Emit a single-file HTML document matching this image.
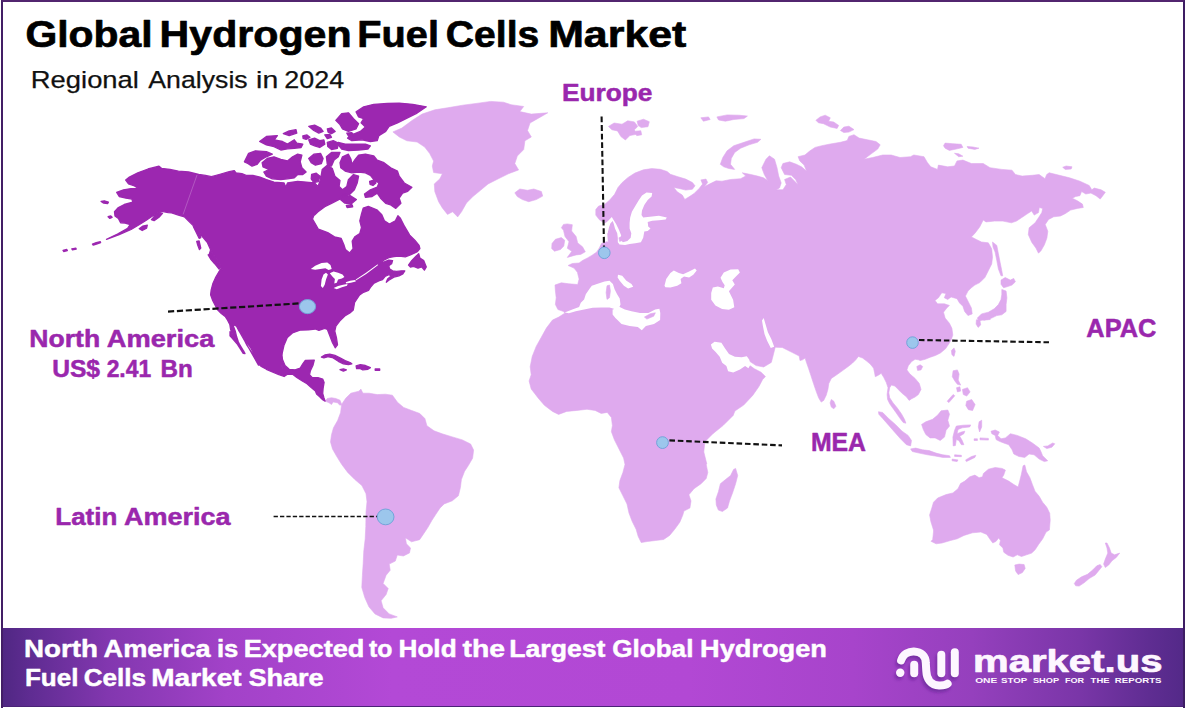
<!DOCTYPE html>
<html><head><meta charset="utf-8">
<style>
html,body{margin:0;padding:0;background:#fff;}
body{width:1186px;height:709px;position:relative;overflow:hidden;font-family:"Liberation Sans",sans-serif;}
#frame{position:absolute;left:1px;top:0;width:1184px;height:707.5px;box-sizing:border-box;border-left:2px solid #431e66;border-top:2px solid #52256f;border-right:2px solid #3d1d63;}
#banner{position:absolute;left:1px;top:628px;width:1184px;height:78px;background:linear-gradient(90deg,#4f2782 0%,#5f2c92 2.5%,#8237af 9%,#a242c8 19%,#b349d6 33%,#b248d4 58%,#a744cb 72%,#9540bd 82%,#7a36a8 91%,#5f2d92 97%,#532988 100%);border-bottom:1.5px solid #4a2377;}
svg{position:absolute;left:0;top:0;}
text{font-family:"Liberation Sans",sans-serif;}
</style></head><body>
<svg id="map" width="1186" height="709" viewBox="0 0 1186 709">
<path fill="#dfaaee" stroke="#dfaaee" stroke-width="0.6" stroke-linejoin="round" d="M325.1 401.1 L327.3 398.5 L331.5 397.7 L335.8 398.5 L340.0 400.2 L341.7 404.5 L340.0 405.3 L337.4 402.8 L333.2 401.9 L331.5 404.5 L329.0 402.8Z M392.9 131.9 L401.8 128.1 L412.0 120.5 L422.1 114.1 L434.8 109.8 L447.5 107.8 L462.7 105.2 L478.0 103.2 L490.7 101.4 L503.4 102.2 L511.0 104.7 L523.7 106.5 L519.8 111.6 L531.3 114.1 L547.8 112.8 L538.9 117.9 L530.0 123.0 L527.5 130.6 L531.3 137.0 L524.9 140.8 L523.7 149.6 L517.3 156.0 L514.8 163.6 L518.6 169.9 L508.4 173.8 L498.3 178.8 L488.1 183.9 L480.5 190.3 L472.9 196.6 L466.5 202.9 L461.5 211.8 L457.7 216.9 L452.6 211.8 L447.5 214.4 L442.4 208.0 L438.6 201.7 L434.8 191.5 L434.3 183.9 L439.9 178.8 L442.4 173.8 L433.6 172.5 L432.3 166.1 L433.6 161.1 L429.7 153.5 L424.7 147.1 L417.1 142.0 L406.9 140.8 L399.3 137.0Z M514.8 192.8 L519.8 189.0 L527.5 190.3 L533.8 189.0 L541.4 191.5 L542.7 196.1 L536.3 199.6 L528.7 201.7 L522.4 199.6 L517.3 196.6Z M564.7 313.2 L563.8 311.6 L557.9 309.5 L555.4 304.5 L556.2 297.7 L555.4 290.9 L555.0 285.0 L561.3 282.8 L568.9 283.8 L577.7 284.5 L579.1 279.1 L577.4 272.3 L574.0 268.1 L568.1 265.5 L572.3 263.5 L579.1 263.0 L582.5 260.5 L587.5 257.9 L591.8 255.4 L596.8 252.0 L599.4 247.8 L601.5 243.5 L606.6 241.7 L608.2 242.2 L607.6 233.2 L608.8 227.5 L610.4 223.0 L612.7 220.7 L604.2 223.0 L599.2 219.6 L595.8 215.1 L595.8 209.5 L598.6 206.1 L604.5 204.5 L609.5 200.2 L614.6 194.3 L618.0 187.5 L622.2 182.5 L628.1 177.4 L634.9 173.1 L643.4 169.8 L651.8 168.6 L660.3 169.3 L667.1 171.5 L670.4 174.3 L677.2 176.5 L685.7 179.1 L692.4 182.5 L695.0 185.8 L692.4 189.2 L685.7 190.1 L678.9 188.4 L673.8 187.5 L677.2 191.8 L682.3 195.1 L684.8 199.4 L689.1 196.8 L694.1 193.5 L699.2 188.4 L702.6 184.1 L700.9 179.9 L706.0 179.1 L707.7 182.5 L704.3 186.7 L709.4 184.1 L716.1 180.8 L722.0 181.2 L730.5 179.5 L740.6 178.7 L745.7 176.1 L742.3 172.8 L750.8 174.5 L757.5 176.1 L763.5 177.8 L767.7 180.4 L764.3 174.5 L761.8 167.7 L766.0 159.2 L769.4 155.8 L774.5 159.2 L777.0 167.7 L778.7 176.1 L781.2 182.9 L779.5 188.0 L776.1 189.7 L782.9 189.7 L786.3 184.6 L784.6 179.5 L790.5 177.0 L796.4 182.9 L798.1 184.6 L795.6 179.5 L791.4 175.3 L784.6 174.5 L781.2 167.7 L782.9 163.5 L789.7 161.8 L796.4 164.3 L801.5 166.8 L806.6 171.1 L804.1 165.1 L799.8 160.9 L798.1 156.7 L804.9 155.0 L810.0 150.8 L815.1 147.4 L821.8 145.7 L830.3 144.0 L840.4 142.3 L847.2 140.6 L848.9 136.4 L854.0 134.7 L859.1 138.1 L867.5 139.8 L876.0 141.5 L880.2 144.8 L877.7 149.1 L870.9 154.1 L864.1 159.2 L872.6 157.5 L882.7 155.0 L891.2 155.0 L900.0 157.5 L910.5 156.7 L913.8 155.0 L924.0 156.7 L927.4 162.6 L930.8 166.8 L937.5 169.4 L938.4 165.1 L947.7 166.8 L954.5 166.0 L957.0 160.9 L962.9 160.1 L971.4 163.5 L983.2 163.5 L990.0 167.7 L1001.8 169.4 L1012.0 170.2 L1015.4 174.5 L1022.1 176.1 L1032.3 175.3 L1039.1 174.5 L1045.0 178.7 L1046.7 174.5 L1049.2 172.8 L1059.4 175.3 L1069.5 177.8 L1080.0 181.2 L1089.2 185.5 L1091.8 189.8 L1094.3 188.1 L1101.1 189.8 L1105.3 192.3 L1102.8 195.7 L1100.2 199.1 L1096.0 195.7 L1090.9 193.1 L1085.8 194.0 L1081.6 191.5 L1079.9 195.7 L1075.7 196.5 L1072.3 198.2 L1077.4 200.8 L1082.4 204.1 L1083.3 207.5 L1077.4 208.4 L1070.6 210.1 L1065.5 213.5 L1060.5 216.0 L1053.7 216.8 L1048.6 219.4 L1045.2 224.5 L1047.8 231.2 L1046.9 238.0 L1044.4 244.8 L1041.0 250.7 L1038.5 253.2 L1035.9 248.1 L1031.7 242.2 L1028.3 234.6 L1029.1 227.8 L1035.1 222.8 L1038.5 217.7 L1041.8 212.6 L1042.7 208.4 L1039.3 207.5 L1038.5 212.6 L1034.2 215.1 L1031.7 210.9 L1026.6 214.3 L1021.5 217.7 L1016.5 221.1 L1011.4 222.8 L1002.9 221.1 L994.5 221.1 L986.0 221.9 L983.2 220.0 L979.8 226.8 L974.8 233.5 L971.4 236.9 L976.4 239.5 L981.5 242.0 L988.3 242.8 L991.7 248.8 L992.5 257.2 L991.7 264.0 L988.3 270.8 L984.9 277.5 L979.8 282.6 L974.8 285.1 L971.4 287.7 L968.0 291.1 L965.4 296.1 L968.0 301.2 L971.4 308.0 L972.2 313.9 L968.0 315.6 L964.6 311.4 L962.9 306.3 L959.5 302.9 L957.0 298.7 L951.1 297.0 L947.7 299.5 L944.3 297.8 L946.0 293.6 L941.8 292.8 L938.4 297.8 L935.0 300.4 L937.5 303.8 L944.3 303.8 L949.4 305.4 L946.8 308.0 L943.5 312.2 L945.1 318.1 L949.4 323.2 L951.9 328.3 L952.8 335.1 L951.1 340.0 L948.9 343.7 L945.5 348.8 L940.4 353.0 L935.4 355.5 L930.3 357.2 L925.2 359.3 L920.1 360.6 L918.4 359.8 L915.1 359.3 L911.7 361.5 L908.3 365.7 L906.9 369.9 L910.0 374.1 L915.1 378.4 L919.3 383.5 L921.0 389.4 L918.4 394.5 L915.1 397.0 L911.7 398.7 L909.1 400.4 L906.6 397.0 L901.5 392.8 L897.3 388.5 L894.8 386.0 L891.4 385.1 L889.7 387.7 L888.8 392.8 L889.7 397.8 L893.1 402.9 L897.3 408.0 L901.5 413.9 L904.6 419.5 L905.9 423.2 L903.2 422.5 L899.8 418.1 L896.1 412.7 L892.7 408.0 L889.7 403.8 L887.6 399.5 L887.1 394.5 L888.0 387.7 L886.3 382.6 L883.8 377.5 L881.2 373.3 L878.7 375.0 L875.3 376.7 L874.5 372.5 L873.6 368.2 L870.2 364.0 L866.0 360.6 L862.6 358.1 L858.4 356.4 L855.8 359.8 L852.5 363.1 L848.2 366.5 L842.3 370.8 L836.4 375.0 L831.3 378.4 L828.8 383.5 L827.9 389.4 L826.2 395.3 L823.7 400.4 L821.2 402.1 L818.6 397.8 L816.1 391.1 L813.5 383.5 L811.0 375.8 L808.5 368.2 L806.4 362.3 L805.1 358.1 L802.5 359.8 L800.0 360.6 L799.2 356.0 L792.4 352.6 L782.3 347.5 L775.2 347.2 L773.0 356.0 L771.3 362.4 L763.7 367.0 L756.1 365.6 L749.3 361.1 L748.4 364.5 L754.4 368.8 L761.1 372.2 L765.4 376.6 L762.5 379.7 L758.9 386.6 L752.7 395.4 L743.7 405.1 L734.9 411.0 L733.2 415.4 L723.0 425.6 L712.9 433.7 L704.8 441.8 L703.8 452.0 L706.8 464.0 L706.2 464.4 L707.8 472.5 L706.2 478.6 L701.1 483.7 L694.0 488.7 L688.9 494.8 L691.0 500.9 L689.9 508.0 L683.9 511.1 L682.8 515.1 L679.8 522.2 L674.7 529.3 L669.6 535.4 L663.6 539.5 L655.4 540.5 L647.3 541.5 L641.2 542.5 L638.2 536.4 L636.1 529.3 L632.1 521.2 L629.0 513.1 L627.0 504.0 L622.9 495.8 L618.9 487.7 L619.9 480.6 L622.9 472.5 L625.0 464.4 L623.6 458.1 L619.5 449.9 L614.4 439.8 L611.4 431.7 L612.4 425.6 L611.4 417.5 L607.3 412.4 L601.2 413.4 L595.1 410.4 L587.0 409.3 L576.9 410.4 L566.7 411.4 L558.6 414.4 L552.5 411.4 L544.4 405.3 L538.3 398.2 L531.2 389.0 L529.1 380.9 L531.2 374.8 L530.2 366.7 L532.2 356.5 L536.2 346.4 L541.3 337.3 L546.4 328.1 L552.5 320.0 L552.5 320.0 L558.8 317.1Z"/>
<path fill="#9c27b0" stroke="#9c27b0" stroke-width="1.3" stroke-linejoin="round" d="M139.2 228.8 L142.9 226.1 L147.3 225.1 L146.6 228.2 L142.2 230.5Z M151.4 219.7 L154.8 216.0 L159.8 212.9 L162.5 213.3 L159.0 217.3 L154.1 220.7Z M101.1 201.4 L104.3 200.8 L108.4 202.1 L107.7 203.5 L103.7 203.1Z M108.1 216.7 L110.8 216.0 L112.1 217.3 L109.7 218.4Z M63.0 250.5 L66.8 249.5 L67.4 250.5 L63.7 251.5Z M71.8 248.8 L75.9 248.1 L76.2 249.2 L72.5 249.8Z M92.5 244.1 L96.2 242.7 L100.3 241.7 L100.6 242.7 L96.5 244.1 L93.2 245.1Z M193.3 226.5 L195.4 226.1 L198.7 231.2 L200.8 237.6 L199.1 238.3 L196.4 232.6Z M196.7 241.4 L199.1 241.0 L200.8 248.1 L199.4 249.5 L197.7 245.1Z M208.2 254.9 L211.6 255.2 L216.3 260.0 L220.4 266.8 L219.1 269.1 L214.7 263.7 L210.6 259.0Z M244.4 161.8 L248.6 153.4 L255.4 150.8 L266.4 151.7 L272.3 154.2 L266.4 156.8 L260.5 160.1 L257.1 164.4 L252.0 166.1 L247.8 163.5Z M262.1 162.7 L267.2 158.5 L274.0 156.8 L280.8 159.3 L287.5 161.0 L292.6 156.8 L297.7 154.2 L301.9 155.1 L300.2 161.8 L301.9 167.8 L306.1 172.0 L302.8 174.5 L297.7 174.5 L294.3 177.9 L287.5 178.8 L280.8 179.6 L272.3 178.8 L266.4 176.2 L263.8 172.0 L268.9 169.5 L263.0 166.9Z M259.6 141.5 L266.4 136.5 L277.4 135.6 L274.3 139.8 L282.5 141.5 L287.5 144.1 L294.3 139.8 L296.8 143.2 L302.8 144.1 L301.1 147.5 L294.3 148.3 L287.5 148.8 L280.8 150.0 L274.0 146.6 L266.4 144.9Z M283.3 133.6 L289.2 130.9 L296.0 129.7 L296.8 133.1 L289.2 135.6Z M308.7 139.8 L314.6 138.1 L319.7 140.7 L323.9 139.8 L324.8 144.1 L319.7 147.5 L314.6 145.8 L310.4 144.1Z M308.7 126.3 L314.6 125.1 L320.5 128.0 L323.1 131.4 L318.8 133.1 L313.8 130.5Z M327.3 128.8 L331.5 128.0 L335.2 131.4 L331.5 133.6 L328.1 132.2Z M335.8 120.4 L341.7 113.6 L348.4 112.8 L353.5 118.7 L358.6 123.8 L356.1 128.8 L348.4 131.4 L342.5 128.8 L340.0 124.6Z M356.1 111.9 L363.7 106.8 L373.8 104.3 L387.4 103.5 L399.2 103.1 L412.7 104.3 L426.3 106.8 L416.1 113.6 L406.0 118.7 L397.5 122.9 L389.1 126.3 L385.7 131.4 L378.9 135.6 L377.2 140.7 L370.4 141.5 L362.0 139.8 L351.8 140.7 L347.6 138.1 L351.8 134.8 L360.3 131.4 L365.4 127.1 L361.1 122.9 L363.7 118.7 L358.6 117.0Z M338.3 142.4 L345.1 144.1 L355.2 144.1 L365.4 144.1 L370.4 145.8 L367.9 149.1 L358.6 150.0 L348.4 150.5 L341.7 149.1 L339.1 145.8Z M308.7 158.5 L313.8 154.2 L320.5 153.4 L323.1 158.5 L321.4 163.5 L315.4 165.2 L311.2 162.7Z M326.4 156.8 L331.5 152.5 L340.0 152.5 L338.3 156.8 L334.1 160.1 L331.5 166.1 L327.3 164.4Z M340.0 162.7 L342.5 156.8 L348.4 154.2 L351.0 159.3 L351.8 164.4 L355.2 159.3 L358.6 155.1 L365.4 154.2 L373.8 155.9 L377.2 160.1 L384.0 162.7 L390.7 167.8 L397.5 171.1 L399.2 176.2 L404.3 183.0 L411.9 187.2 L407.7 191.4 L402.6 193.1 L399.2 198.2 L400.9 203.3 L395.8 208.4 L390.7 205.0 L385.7 203.3 L380.6 198.2 L377.2 193.1 L372.1 196.5 L365.4 197.4 L364.5 194.0 L370.4 189.8 L377.2 187.2 L378.9 183.0 L373.8 179.6 L370.4 175.4 L365.4 172.8 L358.6 172.0 L351.8 172.8 L345.1 171.1 L340.8 167.8Z M369.6 181.3 L373.8 180.1 L375.9 183.0 L373.0 185.5 L370.1 184.3Z M106.5 239.3 L117.5 234.1 L127.7 228.2 L130.2 224.5 L125.1 223.1 L120.6 222.8 L118.4 218.5 L115.0 216.0 L114.5 211.8 L118.4 207.5 L124.3 204.5 L132.8 202.1 L131.9 199.1 L126.0 198.2 L119.2 196.5 L116.7 192.3 L123.5 189.8 L131.1 188.6 L138.7 188.6 L134.5 185.9 L128.5 183.8 L125.7 180.1 L129.4 177.1 L137.8 172.8 L148.0 169.0 L159.0 166.2 L161.5 168.3 L170.0 169.5 L178.4 171.2 L188.6 172.0 L198.7 174.5 L205.5 175.4 L211.4 176.7 L219.1 174.5 L229.2 171.7 L234.3 170.6 L236.0 172.8 L241.9 173.7 L246.1 175.4 L252.9 175.4 L260.0 177.1 L266.4 179.6 L274.0 182.1 L284.1 183.0 L285.8 187.2 L287.5 183.0 L297.7 181.3 L306.1 182.1 L314.6 183.0 L318.0 186.4 L320.5 179.6 L322.2 169.5 L327.3 165.2 L332.4 168.6 L334.9 176.2 L340.0 180.4 L339.1 186.4 L342.5 189.8 L346.8 186.4 L348.4 179.6 L353.5 174.5 L358.6 176.2 L357.2 183.0 L354.4 189.8 L349.3 194.8 L343.4 196.5 L338.3 199.9 L331.5 203.3 L324.8 206.7 L318.0 211.8 L314.6 215.0 L315.0 212.3 L312.5 219.1 L315.0 223.3 L318.4 229.2 L327.7 232.6 L334.5 236.8 L341.2 238.5 L343.8 244.5 L345.4 249.5 L349.7 252.9 L353.1 248.7 L352.2 241.1 L354.8 236.8 L359.8 233.5 L361.5 227.5 L359.8 220.8 L361.5 214.0 L363.2 208.1 L368.3 206.4 L376.8 209.8 L381.8 214.8 L384.4 220.8 L389.4 224.1 L395.4 220.8 L397.9 215.7 L400.4 218.2 L404.7 226.7 L409.7 235.1 L414.8 240.2 L419.1 245.3 L419.9 248.6 L417.4 251.7 L414.2 253.2 L410.4 255.0 L405.3 256.8 L399.0 256.0 L393.9 256.5 L388.8 257.6 L383.8 260.1 L377.4 264.7 L383.8 262.1 L388.8 260.1 L392.6 260.6 L391.6 263.8 L388.8 265.7 L389.5 268.9 L392.6 270.8 L396.4 271.4 L401.5 270.8 L404.8 270.8 L402.8 273.9 L399.0 275.8 L393.9 277.1 L388.8 280.3 L386.3 282.2 L387.6 279.0 L391.4 275.8 L388.8 274.6 L385.0 276.5 L382.5 279.6 L378.7 280.9 L373.6 283.5 L370.4 287.3 L368.5 290.4 L363.5 292.3 L359.6 294.9 L357.1 298.7 L354.6 302.5 L353.3 310.0 L349.9 312.9 L344.8 316.0 L339.7 321.1 L335.9 326.1 L334.8 331.2 L336.5 338.0 L337.5 344.8 L335.2 347.8 L332.5 342.7 L330.1 336.6 L327.4 329.5 L324.7 328.3 L318.9 330.4 L315.2 329.0 L308.4 329.9 L300.0 330.2 L292.4 332.9 L287.3 337.6 L283.9 345.6 L282.2 353.2 L281.4 361.7 L282.2 370.0 L281.6 352.0 L282.5 359.6 L285.0 365.5 L289.2 369.3 L295.1 369.8 L300.2 368.1 L302.8 363.8 L305.3 360.5 L314.3 360.1 L312.9 365.5 L310.4 370.6 L309.5 374.8 L312.1 377.4 L318.0 377.7 L322.7 379.1 L324.1 382.5 L323.1 388.4 L322.7 393.5 L323.9 397.7 L325.1 401.1 L322.7 399.7 L319.7 396.8 L316.6 394.0 L315.4 390.9 L311.2 387.5 L307.0 383.8 L301.9 380.8 L296.8 377.4 L292.6 374.3 L287.5 374.3 L284.1 376.5 L278.2 374.3 L272.3 372.0 L266.4 369.3 L261.3 366.4 L257.4 363.0 L256.7 359.6 L253.7 355.4 L250.3 350.3 L246.9 345.2 L243.9 339.3 L241.0 334.2 L238.5 330.0 L258.5 365.1 L256.8 360.0 L254.3 354.1 L250.9 348.1 L246.7 342.2 L242.5 336.3 L239.1 331.2 L236.5 326.1 L233.1 324.5 L233.7 327.0 L235.3 331.2 L236.5 336.3 L238.2 341.4 L240.4 346.4 L242.8 351.5 L245.0 353.6 L243.8 351.2 L240.8 347.3 L238.2 343.1 L235.7 338.0 L232.3 333.8 L230.6 329.5 L229.8 324.5 L227.6 320.2 L225.5 316.8 L221.3 313.5 L217.1 309.2 L215.4 305.8 L212.8 300.8 L210.6 294.8 L211.2 289.8 L212.8 283.8 L215.4 277.9 L218.8 272.0 L221.3 268.6 L217.9 266.1 L212.8 259.3 L209.0 255.1 L210.6 250.0 L222.4 270.0 L219.1 262.5 L214.8 256.6 L210.6 249.8 L207.2 242.2 L202.1 236.3 L197.1 229.5 L193.7 226.1 L188.6 221.1 L184.4 216.8 L178.4 215.1 L171.7 212.9 L168.3 212.6 L161.5 211.3 L158.1 212.6 L151.4 216.8 L146.3 220.2 L139.5 224.5 L131.1 229.5 L119.2 234.6Z M408.5 265.1 L411.7 260.6 L415.5 256.8 L418.7 253.6 L419.9 258.1 L423.7 260.6 L426.3 267.0 L424.4 270.1 L421.8 267.0 L418.0 268.2 L413.6 266.3 L410.4 267.0Z M339.5 198.8 L343.8 193.7 L349.7 195.4 L356.4 199.6 L351.4 203.8 L344.6 203.0Z M346.3 205.5 L352.2 204.9 L352.7 206.9 L347.1 207.6Z M230.0 331.7 L234.2 335.9 L238.5 342.7 L242.7 349.5 L244.9 353.7 L243.2 353.4 L240.2 348.6 L236.8 343.5 L232.5 338.5 L230.0 335.9Z M321.4 357.1 L324.8 355.0 L329.8 354.2 L334.9 355.4 L340.0 357.9 L345.1 360.5 L350.1 362.5 L351.8 363.8 L348.4 364.7 L343.4 363.8 L338.3 361.3 L333.2 357.9 L328.1 356.7 L323.9 357.9Z M356.1 365.9 L360.3 364.7 L365.4 365.5 L370.4 367.6 L367.9 369.3 L362.8 369.8 L360.3 368.6 L356.6 368.6Z M340.0 369.6 L343.4 368.9 L346.4 369.9 L343.4 371.1Z M375.2 368.9 L379.7 368.9 L379.7 370.3 L375.2 370.3Z M327.3 142.4 L333.2 140.7 L338.3 143.2 L337.4 148.3 L331.5 149.5 L327.8 146.6Z M302.8 135.9 L307.0 134.9 L309.9 137.3 L306.1 139.3 L303.1 138.3Z M311.6 174.5 L316.3 173.2 L320.0 176.2 L318.3 181.6 L313.8 182.6 L311.2 178.8Z M324.8 134.8 L329.8 134.3 L331.5 137.3 L327.3 138.7Z M346.8 133.1 L351.8 132.6 L354.4 135.6 L349.3 137.3Z"/>
<path fill="#fff" d="M564.7 312.6 L572.3 309.5 L579.1 307.0 L580.8 302.8 L584.1 299.4 L585.8 294.3 L589.2 289.2 L591.8 285.8 L597.7 283.8 L604.5 281.6 L609.5 280.8 L612.9 284.1 L614.6 289.2 L617.1 294.3 L619.7 298.5 L620.5 304.5 L618.8 308.2 L615.4 311.2 L613.8 308.7 L609.5 307.5 L601.1 307.5 L592.6 307.8 L584.1 309.5 L575.7 311.2 L568.9 313.2Z M612.6 309.5 L619.7 307.0 L624.8 309.5 L631.5 311.2 L640.0 312.9 L648.4 312.9 L655.2 309.5 L659.4 308.7 L660.3 312.9 L660.1 320.0 L654.0 324.1 L645.9 326.1 L641.8 330.2 L637.8 327.1 L629.7 326.1 L621.5 324.1 L617.5 320.0 L615.4 318.0 L612.6 314.6Z M618.0 274.8 L622.2 275.7 L626.4 280.8 L631.5 284.1 L633.2 286.7 L628.1 288.4 L623.9 285.8 L619.7 280.8 L617.6 277.4Z M664.5 285.8 L666.2 279.1 L670.4 273.1 L673.8 270.6 L678.9 273.1 L683.1 274.3 L689.1 271.5 L695.0 268.6 L696.7 270.6 L693.3 274.8 L689.1 277.4 L684.0 276.5 L680.6 279.1 L681.4 283.3 L677.2 285.8 L670.4 287.5 L665.4 287.2Z M602.6 233.2 L604.2 224.4 L608.2 220.7 L611.8 217.1 L613.3 219.6 L616.1 224.1 L618.9 229.8 L621.2 235.4 L619.7 238.8 L622.9 242.2 L627.4 241.0 L630.7 237.7 L631.3 233.2 L629.6 228.6 L629.6 223.0 L630.2 217.4 L631.9 211.7 L635.3 206.1 L638.6 200.4 L642.0 195.4 L646.5 192.6 L652.2 193.1 L651.6 196.5 L647.7 199.9 L644.3 205.0 L642.0 210.6 L641.5 215.1 L643.2 217.4 L649.9 216.8 L658.9 215.7 L666.8 217.4 L665.7 219.6 L658.9 220.2 L652.2 220.7 L647.7 221.9 L648.2 226.4 L650.5 228.6 L647.7 230.9 L644.3 231.5 L643.2 237.7 L640.9 242.2 L635.3 243.3 L629.6 243.9 L625.1 245.0 L619.5 244.4 L617.8 242.2 L617.8 237.7 L617.2 233.2 L615.0 228.6 L613.8 224.1 L612.7 221.0 L610.4 223.2 L608.8 227.7 L607.6 233.2Z M720.5 277.7 L723.8 272.6 L730.6 269.6 L738.2 269.2 L739.9 272.6 L735.7 276.8 L732.3 280.2 L734.8 284.5 L731.5 288.2 L728.9 291.2 L733.1 299.7 L734.3 307.3 L728.9 309.8 L722.1 309.0 L715.4 305.6 L711.2 299.7 L711.2 292.9 L712.8 287.5 L717.9 286.5 L723.8 288.2 L724.7 285.3 L722.5 281.9Z M710.9 344.5 L714.6 341.8 L721.4 342.8 L725.1 348.4 L729.0 354.0 L734.9 356.8 L741.7 357.3 L746.8 356.3 L749.3 359.7 L750.5 364.5 L748.4 368.2 L745.1 366.1 L740.0 369.5 L733.2 372.6 L728.1 371.2 L726.4 366.1 L722.2 362.8 L719.7 356.8 L715.4 351.8 L712.1 348.4Z M763.7 317.9 L765.4 323.8 L767.9 332.3 L771.3 339.1 L774.2 346.7 L770.8 347.9 L767.1 340.8 L764.5 334.0 L762.8 325.5 L762.0 320.5Z"/>
<path fill="#dfaaee" stroke="#dfaaee" stroke-width="0.6" stroke-linejoin="round" d="M607.0 285.8 L609.5 285.0 L610.4 290.9 L609.5 297.7 L607.0 299.4 L606.1 292.6Z M644.4 317.1 L650.3 313.7 L655.4 312.8 L653.7 316.2 L646.9 319.1Z M618.9 237.7 L621.2 237.1 L622.0 240.5 L619.7 241.5Z M567.3 223.9 L572.3 224.7 L571.6 231.0 L576.1 236.6 L577.7 242.9 L582.5 246.8 L585.3 251.8 L580.7 254.4 L576.1 254.9 L567.3 257.4 L571.8 251.3 L567.3 248.3 L569.0 241.7 L565.0 236.6 L563.5 230.3 L561.4 227.7 L563.5 224.4Z M552.0 243.5 L555.4 239.3 L561.3 237.6 L564.7 240.2 L563.8 246.1 L560.5 249.5 L554.5 251.2 L551.7 248.6Z M608.5 126.4 L614.1 123.0 L622.0 124.2 L627.7 120.8 L634.4 121.9 L637.8 126.4 L634.4 129.8 L636.7 134.3 L629.9 135.5 L625.4 140.0 L620.9 136.6 L617.5 130.9 L611.9 129.8Z M637.1 121.2 L643.5 119.2 L649.3 121.7 L648.0 126.7 L641.2 127.6 L638.1 125.3Z M635.6 131.2 L640.8 130.7 L641.7 134.8 L636.7 135.7Z M720.3 164.3 L722.8 157.5 L727.1 150.8 L733.8 145.7 L744.0 142.3 L754.1 138.9 L760.9 139.3 L757.5 142.3 L749.1 144.8 L740.6 148.2 L734.7 152.5 L731.3 158.4 L730.5 164.3 L734.7 169.4 L728.8 168.5 L723.7 166.8Z M815.9 120.3 L820.1 116.9 L825.2 115.2 L830.3 117.8 L828.6 121.2 L833.7 122.0 L838.7 125.4 L837.1 128.4 L830.3 127.1 L823.5 123.7 L818.4 122.8Z M840.4 130.5 L843.8 127.1 L848.9 126.2 L854.0 129.6 L848.9 132.1 L843.8 132.5Z M700.8 117.8 L708.5 116.9 L710.2 119.5 L703.4 121.2Z M716.9 116.9 L727.1 114.9 L738.9 115.2 L747.4 116.1 L744.0 118.6 L733.8 119.5 L725.4 121.2 L718.6 120.0Z M943.5 145.7 L945.1 143.1 L952.8 143.7 L961.2 144.3 L962.9 147.4 L956.1 149.1 L949.4 150.4 L945.1 148.2Z M967.1 146.5 L973.1 147.0 L979.0 148.2 L974.8 149.4 L968.0 148.2Z M954.5 153.3 L958.7 153.8 L962.9 156.2 L958.7 156.7Z M1062.7 167.3 L1066.1 166.0 L1072.0 166.8 L1071.2 169.0 L1065.3 169.4Z M992.5 242.0 L996.8 245.4 L998.4 253.8 L1000.1 262.3 L1001.8 270.8 L1002.7 275.8 L1001.0 275.8 L998.4 269.1 L996.8 260.6 L995.1 252.1 L993.0 247.1Z M1001.0 280.1 L1005.2 277.5 L1010.3 280.1 L1013.7 278.4 L1015.4 281.8 L1012.0 285.1 L1006.9 286.8 L1003.5 287.7 L1001.0 284.3Z M1001.8 289.4 L1006.1 291.1 L1006.9 297.8 L1006.1 304.6 L1006.1 311.4 L1001.8 314.8 L996.8 315.6 L991.7 318.1 L984.9 319.8 L979.0 320.7 L977.3 318.1 L981.5 313.9 L988.3 312.2 L994.2 308.8 L998.4 304.6 L1001.0 299.5 L1001.8 294.5Z M983.2 317.8 L990.0 317.1 L990.3 319.5 L983.6 320.2Z M976.4 319.8 L979.8 319.8 L980.7 324.9 L978.1 327.4 L976.1 324.1Z M831.3 399.5 L833.8 401.2 L835.9 406.3 L833.8 408.8 L831.3 407.1 L830.1 402.9Z M916.8 366.5 L920.1 364.8 L922.7 366.5 L921.0 369.9 L917.6 370.4Z M951.4 350.5 L954.0 347.9 L955.3 351.3 L954.0 356.4 L951.9 354.7Z M953.1 370.8 L957.4 369.9 L959.1 374.1 L958.2 380.1 L960.7 385.1 L957.4 384.3 L954.8 380.9 L952.3 376.7Z M956.5 387.7 L959.9 386.8 L960.7 391.1 L957.4 391.9Z M962.4 389.4 L967.5 387.7 L970.1 391.9 L966.7 396.1 L963.3 394.5Z M966.7 401.2 L971.7 399.5 L975.1 404.6 L972.6 410.5 L968.4 409.7 L965.8 405.4Z M947.2 401.2 L953.1 394.5 L954.8 395.8 L948.9 402.6Z M878.5 411.7 L882.7 412.5 L888.6 418.5 L895.4 424.4 L902.1 431.2 L908.1 435.4 L911.5 440.5 L910.6 445.9 L906.4 444.7 L900.5 438.8 L894.5 432.0 L888.6 425.2 L882.7 418.5 L878.8 414.2Z M921.6 424.4 L925.8 421.8 L932.6 419.3 L937.7 415.1 L941.1 410.8 L947.8 410.0 L949.5 414.2 L947.8 420.2 L949.5 426.1 L946.1 430.3 L944.5 437.1 L940.2 440.5 L935.1 437.9 L930.1 437.9 L925.8 434.5 L923.3 429.5Z M910.6 448.9 L915.7 448.1 L922.5 449.8 L929.2 450.6 L936.0 453.1 L942.8 454.8 L949.5 455.7 L950.4 457.4 L942.8 457.4 L935.1 456.0 L927.5 454.8 L919.1 453.1 L912.3 451.5Z M952.1 459.1 L958.0 459.9 L957.1 461.6 L952.1 460.8Z M954.6 454.8 L961.4 455.3 L961.4 456.7 L954.6 456.4Z M965.6 459.9 L971.5 456.5 L975.8 455.3 L974.9 457.4 L969.8 459.9 L966.4 461.6Z M952.9 437.1 L954.6 430.3 L956.3 426.1 L963.1 425.2 L970.7 424.9 L969.8 426.9 L962.2 427.8 L958.0 429.5 L957.1 433.7 L961.4 432.0 L964.8 431.2 L963.9 433.7 L959.7 436.2 L962.2 440.5 L963.9 444.7 L961.4 444.7 L958.8 440.5 L956.3 439.6 L955.4 445.5 L953.2 445.9Z M979.1 421.8 L981.7 420.2 L981.7 426.9 L979.6 432.0 L978.3 426.9Z M974.1 438.8 L977.4 438.8 L977.4 440.5 L974.1 440.5Z M980.0 437.9 L988.4 438.4 L988.4 440.1 L980.0 439.8Z M991.0 431.2 L995.2 430.0 L999.4 432.0 L997.7 435.4 L1001.1 438.8 L1005.4 437.9 L1010.4 433.7 L1017.2 435.4 L1025.7 438.8 L1032.4 443.0 L1039.2 448.1 L1040.9 451.5 L1042.6 455.7 L1047.7 460.8 L1044.3 461.6 L1039.2 459.1 L1034.1 454.8 L1029.1 454.0 L1024.8 457.4 L1018.9 456.5 L1013.8 454.0 L1012.1 449.8 L1008.7 444.7 L1003.7 443.0 L999.4 441.3 L996.1 439.6 L995.2 435.4 L991.8 433.7Z M1043.4 446.4 L1047.7 445.9 L1052.7 443.0 L1054.8 443.8 L1051.9 447.2 L1046.8 448.6Z M933.5 530.0 L930.9 521.7 L929.6 514.9 L931.8 508.1 L933.5 502.2 L937.7 498.0 L946.1 494.6 L952.9 492.9 L958.0 488.7 L960.5 483.6 L964.8 481.1 L969.8 476.8 L974.9 475.1 L979.1 477.7 L982.5 476.8 L983.4 473.5 L988.4 469.2 L995.2 467.5 L1002.0 468.4 L1005.4 470.1 L1003.7 475.1 L1002.0 477.7 L1008.7 481.1 L1013.8 484.5 L1018.1 487.0 L1019.7 481.1 L1021.4 474.3 L1023.1 465.8 L1024.8 465.0 L1026.5 471.8 L1029.9 477.7 L1032.4 484.5 L1035.0 491.2 L1039.2 496.3 L1042.6 502.2 L1046.8 507.3 L1049.7 513.2 L1050.2 520.0 L1049.4 530.0 L1046.1 532.0 L1042.7 538.8 L1038.4 544.7 L1035.1 549.8 L1031.7 553.1 L1026.6 554.8 L1021.5 556.5 L1017.3 554.8 L1013.1 557.0 L1008.0 555.3 L1003.8 552.3 L1002.9 548.1 L999.5 544.7 L1000.4 540.5 L998.7 537.9 L996.1 541.3 L992.8 543.0 L990.2 539.6 L986.8 534.5 L980.9 532.0 L972.5 532.8 L964.0 535.4 L957.2 538.8 L950.5 540.5 L942.0 543.0 L936.1 543.8 L931.0 541.3 L932.7 539.6 L933.5 532.0Z M1014.8 565.0 L1019.0 564.1 L1024.1 564.5 L1025.2 568.4 L1022.4 572.6 L1018.1 574.6 L1015.6 570.9Z M1074.3 583.6 L1076.5 580.2 L1081.6 576.8 L1087.5 574.3 L1092.6 570.1 L1096.8 565.8 L1100.2 564.5 L1101.9 566.7 L1098.5 570.9 L1095.1 575.1 L1089.2 578.5 L1084.1 582.8 L1079.1 586.1 L1075.7 585.8Z M1103.6 564.1 L1105.3 559.1 L1107.8 553.1 L1107.0 548.1 L1105.3 543.0 L1107.0 543.0 L1109.5 548.1 L1111.2 553.1 L1114.6 554.8 L1119.7 553.1 L1116.3 557.4 L1112.0 560.8 L1108.7 565.0 L1105.3 567.5Z M716.3 505.0 L715.9 498.9 L718.4 491.8 L720.4 483.7 L725.5 479.6 L730.6 475.5 L733.6 469.4 L735.6 468.4 L737.7 475.5 L735.6 483.7 L732.6 492.8 L729.5 500.9 L727.5 508.0 L722.4 511.5 L718.4 510.1Z M341.6 404.4 L345.7 398.3 L350.8 393.2 L358.9 391.2 L360.9 389.1 L362.9 393.2 L369.0 393.2 L377.2 394.6 L385.3 394.2 L392.4 395.2 L397.5 402.3 L403.6 407.4 L411.7 410.5 L419.8 413.5 L424.9 418.6 L426.9 425.7 L434.0 430.8 L442.1 433.8 L452.3 436.9 L462.4 439.9 L470.6 444.0 L473.6 450.1 L472.6 458.2 L468.5 465.3 L464.5 471.4 L461.4 479.5 L460.4 487.6 L458.4 495.7 L452.3 500.8 L444.2 503.9 L440.1 507.9 L436.0 514.0 L431.8 520.5 L427.8 527.6 L423.7 533.7 L419.6 539.7 L411.5 541.8 L405.4 537.7 L406.4 543.8 L410.5 547.9 L409.5 552.9 L403.4 556.0 L397.3 555.0 L395.3 561.1 L389.2 564.1 L390.2 570.2 L386.1 575.3 L383.1 583.4 L388.2 588.5 L386.1 594.6 L381.1 600.7 L383.1 607.8 L389.2 613.9 L397.3 616.9 L391.2 618.3 L383.1 617.9 L375.0 613.9 L368.9 606.8 L364.8 597.6 L361.8 587.5 L362.4 575.3 L363.2 563.1 L363.8 550.9 L365.2 538.7 L365.8 526.5 L366.0 512.0 L367.0 501.8 L366.0 493.7 L361.9 485.6 L354.8 479.5 L347.7 472.4 L341.6 464.3 L336.5 456.1 L332.5 449.0 L330.5 441.9 L331.5 434.8 L333.5 427.7 L337.6 420.6 L340.6 412.5Z"/>
<path fill="#fff" d="M310.8 268.9 L315.2 265.7 L321.6 263.1 L327.3 262.5 L330.5 265.1 L331.7 268.9 L328.6 270.1 L325.4 268.2 L320.3 268.9 L315.2 269.7Z M320.9 286.0 L321.6 279.6 L323.5 274.6 L326.0 272.7 L327.9 274.6 L326.0 279.6 L324.7 284.7 L322.8 287.9Z M329.8 273.3 L333.6 271.4 L338.1 272.7 L342.5 274.6 L344.4 277.1 L341.9 278.6 L338.1 279.6 L336.8 282.8 L334.3 283.5 L334.9 279.0 L332.4 276.5Z M333.6 287.9 L338.1 286.0 L343.1 284.7 L347.6 284.1 L347.0 285.7 L341.9 287.3 L336.8 289.2Z M345.7 282.2 L350.1 280.7 L355.2 279.9 L355.8 281.5 L350.8 282.8 L346.3 283.5Z M377.7 264.2 L366.0 272.8 L355.8 279.6 L355.8 280.5 L366.2 273.9 L377.9 265.3Z"/>
<path d="M197 175 L183.1 214.4" stroke="#fff" stroke-opacity="0.28" stroke-width="0.8" fill="none"/>
<g stroke="#111" fill="none">
<path d="M168 311.6 L299.5 303.4" stroke-width="2.2" stroke-dasharray="6.2 2.7"/>
<path d="M601.6 116.5 L604 247" stroke-width="2.1" stroke-dasharray="5.8 2.8"/>
<path d="M919 340 L1050.2 342.3" stroke-width="2.1" stroke-dasharray="5.5 2.8"/>
<path d="M669.4 440.4 L782 445.4" stroke-width="2.1" stroke-dasharray="5.6 2.8"/>
<path d="M273.6 516.5 L377.5 516.5" stroke-width="1.7" stroke-dasharray="4.3 2.1"/>
</g>
<g fill="#9cc6ec" stroke="#74a3da" stroke-width="1">
<ellipse cx="307.5" cy="306.6" rx="8.1" ry="7.1"/>
<circle cx="604.3" cy="252.8" r="5.8"/>
<circle cx="912.5" cy="342.6" r="5.8"/>
<circle cx="662.5" cy="442.6" r="5.9"/>
<ellipse cx="385.6" cy="516.9" rx="8.4" ry="7.9"/>
</g>
<text x="25.52" y="47.10" font-size="37.50" font-weight="bold" fill="#000" stroke="#000" stroke-width="0.7" stroke-linejoin="round" textLength="127.04" lengthAdjust="spacingAndGlyphs">Global</text>
<text x="159.58" y="47.10" font-size="37.50" font-weight="bold" fill="#000" stroke="#000" stroke-width="0.7" stroke-linejoin="round" textLength="191.93" lengthAdjust="spacingAndGlyphs">Hydrogen</text>
<text x="357.37" y="47.10" font-size="37.50" font-weight="bold" fill="#000" stroke="#000" stroke-width="0.7" stroke-linejoin="round" textLength="81.59" lengthAdjust="spacingAndGlyphs">Fuel</text>
<text x="445.89" y="47.10" font-size="37.50" font-weight="bold" fill="#000" stroke="#000" stroke-width="0.7" stroke-linejoin="round" textLength="93.43" lengthAdjust="spacingAndGlyphs">Cells</text>
<text x="548.16" y="47.10" font-size="37.50" font-weight="bold" fill="#000" stroke="#000" stroke-width="0.7" stroke-linejoin="round" textLength="138.18" lengthAdjust="spacingAndGlyphs">Market</text>
<text x="30.83" y="87.50" font-size="24.71" font-weight="normal" fill="#111" stroke="#111" stroke-width="0.25" stroke-linejoin="round" textLength="108.09" lengthAdjust="spacingAndGlyphs">Regional</text>
<text x="148.32" y="87.50" font-size="24.71" font-weight="normal" fill="#111" stroke="#111" stroke-width="0.25" stroke-linejoin="round" textLength="99.35" lengthAdjust="spacingAndGlyphs">Analysis</text>
<text x="256.08" y="87.50" font-size="24.71" font-weight="normal" fill="#111" stroke="#111" stroke-width="0.25" stroke-linejoin="round" textLength="22.09" lengthAdjust="spacingAndGlyphs">in</text>
<text x="284.38" y="87.50" font-size="24.71" font-weight="normal" fill="#111" stroke="#111" stroke-width="0.25" stroke-linejoin="round" textLength="59.86" lengthAdjust="spacingAndGlyphs">2024</text>
<text x="561.94" y="101.40" font-size="24.42" font-weight="bold" fill="#9a27ad" stroke="#9a27ad" stroke-width="0.5" stroke-linejoin="round" textLength="90.49" lengthAdjust="spacingAndGlyphs">Europe</text>
<text x="29.32" y="346.50" font-size="24.27" font-weight="bold" fill="#9a27ad" stroke="#9a27ad" stroke-width="0.5" stroke-linejoin="round" textLength="70.85" lengthAdjust="spacingAndGlyphs">North</text>
<text x="106.77" y="346.50" font-size="24.27" font-weight="bold" fill="#9a27ad" stroke="#9a27ad" stroke-width="0.5" stroke-linejoin="round" textLength="107.56" lengthAdjust="spacingAndGlyphs">America</text>
<text x="52.17" y="376.60" font-size="24.27" font-weight="bold" fill="#9a27ad" stroke="#9a27ad" stroke-width="0.5" stroke-linejoin="round" textLength="47.93" lengthAdjust="spacingAndGlyphs">US$</text>
<text x="106.65" y="376.60" font-size="24.27" font-weight="bold" fill="#9a27ad" stroke="#9a27ad" stroke-width="0.5" stroke-linejoin="round" textLength="44.50" lengthAdjust="spacingAndGlyphs">2.41</text>
<text x="160.57" y="376.60" font-size="24.27" font-weight="bold" fill="#9a27ad" stroke="#9a27ad" stroke-width="0.5" stroke-linejoin="round" textLength="32.30" lengthAdjust="spacingAndGlyphs">Bn</text>
<text x="55.26" y="525.20" font-size="24.27" font-weight="bold" fill="#9a27ad" stroke="#9a27ad" stroke-width="0.5" stroke-linejoin="round" textLength="62.12" lengthAdjust="spacingAndGlyphs">Latin</text>
<text x="123.97" y="525.20" font-size="24.27" font-weight="bold" fill="#9a27ad" stroke="#9a27ad" stroke-width="0.5" stroke-linejoin="round" textLength="106.65" lengthAdjust="spacingAndGlyphs">America</text>
<text x="1086.32" y="336.70" font-size="25.15" font-weight="bold" fill="#9a27ad" stroke="#9a27ad" stroke-width="0.5" stroke-linejoin="round" textLength="69.98" lengthAdjust="spacingAndGlyphs">APAC</text>
<text x="810.94" y="450.70" font-size="25.15" font-weight="bold" fill="#9a27ad" stroke="#9a27ad" stroke-width="0.5" stroke-linejoin="round" textLength="55.09" lengthAdjust="spacingAndGlyphs">MEA</text>
</svg>
<div id="banner"></div>
<div id="frame"></div>
<svg width="1186" height="709" viewBox="0 0 1186 709">
<text x="24.02" y="656.60" font-size="23.26" font-weight="bold" fill="#fff" stroke="#fff" stroke-width="0.45" stroke-linejoin="round" textLength="73.95" lengthAdjust="spacingAndGlyphs">North</text>
<text x="103.55" y="656.60" font-size="23.26" font-weight="bold" fill="#fff" stroke="#fff" stroke-width="0.45" stroke-linejoin="round" textLength="107.01" lengthAdjust="spacingAndGlyphs">America</text>
<text x="217.03" y="656.60" font-size="23.26" font-weight="bold" fill="#fff" stroke="#fff" stroke-width="0.45" stroke-linejoin="round" textLength="21.34" lengthAdjust="spacingAndGlyphs">is</text>
<text x="243.66" y="656.60" font-size="23.26" font-weight="bold" fill="#fff" stroke="#fff" stroke-width="0.45" stroke-linejoin="round" textLength="120.72" lengthAdjust="spacingAndGlyphs">Expected</text>
<text x="369.08" y="656.60" font-size="23.26" font-weight="bold" fill="#fff" stroke="#fff" stroke-width="0.45" stroke-linejoin="round" textLength="23.44" lengthAdjust="spacingAndGlyphs">to</text>
<text x="398.53" y="656.60" font-size="23.26" font-weight="bold" fill="#fff" stroke="#fff" stroke-width="0.45" stroke-linejoin="round" textLength="58.09" lengthAdjust="spacingAndGlyphs">Hold</text>
<text x="462.64" y="656.60" font-size="23.26" font-weight="bold" fill="#fff" stroke="#fff" stroke-width="0.45" stroke-linejoin="round" textLength="42.49" lengthAdjust="spacingAndGlyphs">the</text>
<text x="509.29" y="656.60" font-size="23.26" font-weight="bold" fill="#fff" stroke="#fff" stroke-width="0.45" stroke-linejoin="round" textLength="96.21" lengthAdjust="spacingAndGlyphs">Largest</text>
<text x="612.18" y="656.60" font-size="23.26" font-weight="bold" fill="#fff" stroke="#fff" stroke-width="0.45" stroke-linejoin="round" textLength="81.23" lengthAdjust="spacingAndGlyphs">Global</text>
<text x="700.06" y="656.60" font-size="23.26" font-weight="bold" fill="#fff" stroke="#fff" stroke-width="0.45" stroke-linejoin="round" textLength="126.91" lengthAdjust="spacingAndGlyphs">Hydrogen</text>
<text x="24.93" y="685.80" font-size="23.26" font-weight="bold" fill="#fff" stroke="#fff" stroke-width="0.45" stroke-linejoin="round" textLength="53.56" lengthAdjust="spacingAndGlyphs">Fuel</text>
<text x="83.78" y="685.80" font-size="23.26" font-weight="bold" fill="#fff" stroke="#fff" stroke-width="0.45" stroke-linejoin="round" textLength="62.34" lengthAdjust="spacingAndGlyphs">Cells</text>
<text x="151.31" y="685.80" font-size="23.26" font-weight="bold" fill="#fff" stroke="#fff" stroke-width="0.45" stroke-linejoin="round" textLength="90.25" lengthAdjust="spacingAndGlyphs">Market</text>
<text x="248.41" y="685.80" font-size="23.26" font-weight="bold" fill="#fff" stroke="#fff" stroke-width="0.45" stroke-linejoin="round" textLength="75.26" lengthAdjust="spacingAndGlyphs">Share</text>
<defs><filter id="sh" x="-20%" y="-20%" width="140%" height="150%"><feGaussianBlur stdDeviation="1.6"/></filter></defs>
<g fill="none" stroke="#4b1d80" stroke-opacity="0.45" stroke-linecap="round" stroke-width="8" filter="url(#sh)" transform="translate(-1.5,3)">
<path d="M901.1 660.4 C903 654 909 651.3 914 651.5 C921 651.8 925.8 656 925.8 663 L926.3 671 C926.6 679 931 685.3 939 685.5 C943 685.6 946 685 947.6 683.7"/>
<path d="M914.2 664.8 L914.2 673.3"/><path d="M941.3 654.7 L941.3 673.3"/><path d="M954.8 652.2 L954.8 673.3"/>
<path d="M900.2 672.7 L900.25 672.7"/>
</g>
<g id="logo" fill="none" stroke="#fdf6ff" stroke-linecap="round" stroke-width="8">
<path d="M901.1 660.4 C903 654 909 651.3 914 651.5 C921 651.8 925.8 656 925.8 663 L926.3 671 C926.6 679 931 685.3 939 685.5 C943 685.6 946 685 947.6 683.7"/>
<path d="M914.2 664.8 L914.2 673.3"/><path d="M941.3 654.7 L941.3 673.3"/><path d="M954.8 652.2 L954.8 673.3"/>
<path d="M900.2 672.7 L900.25 672.7" stroke-width="8.4"/>
</g>
<text x="973.04" y="671.70" font-size="31.40" font-weight="bold" fill="#fdf6ff" stroke="#fdf6ff" stroke-width="0.7" stroke-linejoin="round" textLength="189.40" lengthAdjust="spacingAndGlyphs">market.us</text>
<text x="975.19" y="682.60" font-size="7.12" font-weight="bold" fill="#fdf6ff" textLength="22.09" lengthAdjust="spacingAndGlyphs">ONE</text>
<text x="1001.01" y="682.60" font-size="7.12" font-weight="bold" fill="#fdf6ff" textLength="26.28" lengthAdjust="spacingAndGlyphs">STOP</text>
<text x="1032.92" y="682.60" font-size="7.12" font-weight="bold" fill="#fdf6ff" textLength="26.19" lengthAdjust="spacingAndGlyphs">SHOP</text>
<text x="1065.01" y="682.60" font-size="7.12" font-weight="bold" fill="#fdf6ff" textLength="19.18" lengthAdjust="spacingAndGlyphs">FOR</text>
<text x="1090.60" y="682.60" font-size="7.12" font-weight="bold" fill="#fdf6ff" textLength="19.03" lengthAdjust="spacingAndGlyphs">THE</text>
<text x="1114.87" y="682.60" font-size="7.12" font-weight="bold" fill="#fdf6ff" textLength="46.71" lengthAdjust="spacingAndGlyphs">REPORTS</text>
</svg>
</body></html>
